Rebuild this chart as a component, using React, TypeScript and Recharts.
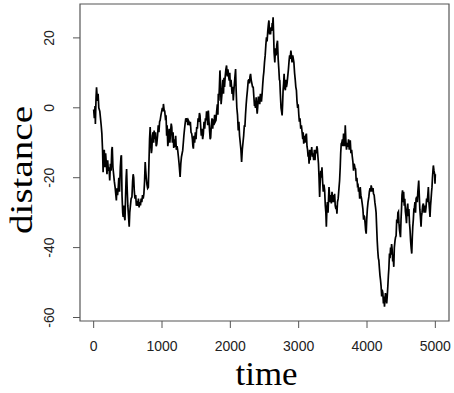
import React from 'react';
import { LineChart, Line, XAxis, YAxis, ReferenceArea } from 'recharts';

// values (random walk, 5000 steps)
const timeSteps = [
  0, 10, 20, 25, 35, 42, 55, 65, 75, 90, 100, 110, 120, 130, 138, 145, 155, 165, 175, 185,
  195, 205, 215, 225, 235, 245, 255, 265, 272, 282, 292, 302, 315, 325, 332, 340, 350, 360, 368, 378,
  390, 400, 406, 415, 425, 432, 440, 448, 458, 466, 475, 482, 490, 500, 510, 520, 528, 538, 548, 560,
  570, 578, 586, 595, 605, 615, 625, 635, 645, 655, 665, 675, 685, 695, 705, 715, 725, 735, 745, 754,
  762, 770, 780, 790, 800, 810, 818, 827, 835, 845, 851, 860, 870, 878, 885, 895, 905, 915, 924, 935,
  945, 955, 965, 973, 985, 995, 1005, 1015, 1021, 1030, 1040, 1050, 1060, 1068, 1075, 1085, 1094, 1105, 1115, 1125,
  1135, 1143, 1152, 1162, 1172, 1182, 1192, 1200, 1210, 1220, 1230, 1240, 1250, 1258, 1265, 1275, 1285, 1295, 1303, 1312,
  1320, 1330, 1338, 1348, 1358, 1368, 1378, 1386, 1395, 1405, 1415, 1425, 1435, 1445, 1452, 1459, 1468, 1478, 1488, 1498,
  1508, 1518, 1528, 1538, 1548, 1556, 1565, 1575, 1585, 1595, 1605, 1615, 1625, 1635, 1644, 1652, 1660, 1670, 1678, 1688,
  1698, 1705, 1712, 1722, 1732, 1742, 1751, 1760, 1770, 1780, 1790, 1800, 1810, 1818, 1824, 1832, 1840, 1848, 1856, 1865,
  1873, 1882, 1890, 1900, 1907, 1915, 1925, 1935, 1945, 1955, 1965, 1975, 1984, 1992, 2000, 2010, 2018, 2026, 2035, 2043,
  2052, 2060, 2068, 2077, 2085, 2095, 2105, 2116, 2125, 2135, 2145, 2155, 2165, 2175, 2185, 2195, 2205, 2213, 2222, 2232,
  2240, 2250, 2262, 2270, 2280, 2288, 2296, 2305, 2315, 2325, 2335, 2345, 2352, 2359, 2368, 2378, 2386, 2393, 2400, 2410,
  2422, 2430, 2440, 2448, 2456, 2465, 2475, 2483, 2490, 2500, 2510, 2520, 2529, 2538, 2548, 2558, 2565, 2573, 2580, 2588,
  2596, 2605, 2612, 2620, 2626, 2632, 2640, 2651, 2660, 2670, 2680, 2690, 2700, 2710, 2718, 2724, 2732, 2742, 2750, 2758,
  2765, 2772, 2780, 2787, 2795, 2805, 2813, 2821, 2830, 2840, 2850, 2860, 2868, 2876, 2886, 2894, 2903, 2913, 2922, 2930,
  2940, 2950, 2958, 2967, 2975, 2985, 2993, 3001, 3010, 3020, 3030, 3040, 3050, 3060, 3066, 3074, 3083, 3093, 3103, 3113,
  3122, 3130, 3138, 3145, 3152, 3160, 3168, 3176, 3184, 3191, 3200, 3210, 3220, 3230, 3239, 3248, 3258, 3266, 3273, 3282,
  3290, 3298, 3307, 3315, 3323, 3332, 3341, 3350, 3360, 3370, 3380, 3390, 3398, 3405, 3413, 3420, 3430, 3437, 3444, 3452,
  3460, 3470, 3478, 3488, 3498, 3508, 3518, 3526, 3535, 3545, 3552, 3560, 3568, 3578, 3590, 3599, 3608, 3615, 3623, 3632,
  3640, 3648, 3657, 3665, 3673, 3682, 3690, 3700, 3710, 3721, 3730, 3740, 3748, 3755, 3765, 3775, 3785, 3794, 3803, 3812,
  3822, 3833, 3842, 3852, 3860, 3867, 3876, 3885, 3893, 3901, 3910, 3920, 3930, 3940, 3950, 3958, 3964, 3972, 3980, 3988,
  3996, 4005, 4015, 4027, 4035, 4045, 4053, 4061, 4070, 4080, 4088, 4095, 4105, 4115, 4125, 4133, 4141, 4149, 4158, 4166,
  4173, 4182, 4190, 4198, 4206, 4215, 4222, 4232, 4240, 4248, 4256, 4262, 4270, 4280, 4288, 4296, 4305, 4313, 4320, 4329,
  4337, 4345, 4352, 4360, 4368, 4376, 4384, 4392, 4400, 4410, 4418, 4426, 4435, 4445, 4452, 4460, 4468, 4476, 4483, 4490,
  4498, 4505, 4512, 4520, 4528, 4536, 4545, 4553, 4562, 4570, 4578, 4586, 4596, 4605, 4613, 4622, 4630, 4638, 4646, 4655,
  4663, 4670, 4678, 4686, 4694, 4702, 4710, 4718, 4728, 4736, 4744, 4752, 4757, 4765, 4773, 4781, 4791, 4798, 4805, 4815,
  4825, 4835, 4845, 4855, 4864, 4872, 4880, 4890, 4898, 4906, 4914, 4922, 4930, 4938, 4945, 4951, 4958, 4965, 4971, 4980,
  4990, 4995, 5000,
];

const distanceValues = [
  -0.5, -3, 0.5, -4.6, 3, 5.9, 2, 4, 0, -1, -3, -5, -7.4, -12, -18.4, -14, -12, -17, -13, -16,
  -19, -15, -18, -17, -20.8, -16, -18, -12, -11.2, -17, -19, -21, -23, -25, -26.5, -23, -25, -22.7, -20, -24,
  -17, -14, -13.6, -25, -30, -31.2, -28, -31, -32.2, -26, -20, -17.5, -23, -28, -31, -34, -30, -28, -26, -25.5,
  -21, -19, -20, -24, -26, -25, -28, -27.4, -28, -26, -28.5, -27, -27.9, -26, -27, -25, -26, -24.6, -21, -15.5,
  -18, -20, -22, -23, -22.7, -15, -9, -5.5, -10, -13, -12, -8, -7, -10, -6.5, -9, -7, -11, -10.3, -8,
  -5, -7, -4, -3.6, -2, -1, 0, -1, 1.1, -0.5, -1, -3, -2.7, -8, -5, -11, -9.3, -6, -10, -7,
  -4.5, -5.5, -10, -7, -11.5, -9, -11.2, -8, -12, -11, -12.2, -14, -16, -18, -19.8, -16, -14, -13, -12.2, -10,
  -8, -6, -4.6, -3, -4, -3, -5, -3.6, -4, -5, -4, -7, -7.4, -9, -11, -11.7, -8, -10, -7, -9,
  -5.5, -6, -3, -4, -1.5, -2.2, -5, -8, -6, -9, -7.5, -4, -6, -3, -3.6, -1, -3, -5, -0.8, -4,
  -7, -9, -8.5, -5, -3, -6, -3.3, -5, -2, -4, -3.6, -1, 1, -2, 4, 2, 6, 10.7, 7, 1,
  3, 5, 8, 4, 8.6, 6, 9, 11, 12.1, 9, 11, 9, 7.8, 10, 6, 8, 5.9, 4, 6, 2.1,
  5, 7, 9, 11.1, 5, 0, -2, -6.5, -4, -8, -10, -12, -15.5, -12, -10, -8, -5, -5.5, -2, 1,
  3, 5, 7.8, 8, 7, 9, 9.7, 8, 7, 6, 5.9, 3, 1, 1.1, 0, 3, 0, -1.7, 0, 3,
  3, 1, 4, 2, 2, 4, 7, 9, 10.2, 13, 15, 18, 20.2, 19, 22, 24, 25, 21, 22, 21,
  23, 22, 24, 24, 25.9, 22, 16, 13, 17, 15, 18, 19.2, 14, 11, 8, 7.8, 4, 0, -1, -2.2,
  1, 5, 7, 9.7, 6, 5, 8, 5.9, 7, 9, 11, 13.5, 15, 14, 16.4, 15, 13, 15, 14, 13,
  10, 8, 6, 5, 2, 0, 1, -1.7, -4, -3, -6, -5, -7, -9, -7, -10.3, -8, -10, -8, -7.4,
  -11, -12, -14, -13, -16, -12, -15, -12, -13, -11.2, -14, -13, -15, -12, -15, -12, -13, -11, -11.7, -14,
  -16, -20, -25.5, -21, -18, -20, -17, -21, -24, -22, -23.6, -28, -30, -34, -29, -27, -30, -26, -22.7, -25,
  -27, -25, -27.4, -24, -27, -25, -27, -24.6, -28, -29, -28, -30.3, -27, -26, -23, -20.8, -17, -13, -10.3, -10,
  -9, -11, -7.4, -9, -11, -5, -9, -12, -10, -11.2, -9, -12, -10, -9.3, -13, -12, -14, -15.5, -18, -16,
  -17, -17.5, -21, -20, -22, -21.7, -24, -23, -26, -22.7, -25, -26, -27.4, -29, -32, -31, -31.2, -33, -35, -36,
  -32, -29, -27, -25.5, -24, -23, -24, -22.2, -23, -24, -23, -24.6, -25, -27, -28.5, -30, -34, -37.9, -41, -43,
  -43.6, -46, -48, -49.3, -51, -54, -52, -53, -56, -54, -56.9, -55, -53, -54, -56, -54, -51, -48, -46, -41.7,
  -43, -40, -42, -39, -40.5, -44, -43, -45.5, -40, -38, -37, -36.6, -32, -33, -30, -29.7, -33, -35, -36, -37,
  -32, -29, -25, -23.6, -27, -24, -28, -26, -29.7, -31, -33, -29, -27.4, -31, -29, -33, -35, -38, -40, -41.7,
  -37, -34, -32, -29, -28.5, -27, -30, -26, -25.5, -27, -24, -22, -20.8, -25, -29, -31, -34, -31, -30, -28,
  -27.4, -30, -28, -30, -28.5, -26, -27, -25, -22.7, -27, -29, -31.2, -28, -26, -24, -22.7, -20, -18, -16.5, -18,
  -19, -21.7, -19,
];

const xTicks = [0, 1000, 2000, 3000, 4000, 5000];
const yTicks = [-60, -40, -20, 0, 20];

const walkData = timeSteps.map((t, i) => ({ time: t, distance: distanceValues[i] }));

const tickFont = '"Liberation Sans", Arial, sans-serif';
const titleFont = '"Liberation Serif", "Times New Roman", serif';

const XTick = ({ x, y, payload }: any) => (
  <text x={x} y={y + 21} textAnchor="middle" fontSize={14} fontFamily={tickFont} fill="#222">
    {payload.value}
  </text>
);

const YTick = ({ x, y, payload }: any) => {
  const tx = x - 17;
  return (
    <text
      x={tx}
      y={y}
      transform={`rotate(-90 ${tx} ${y})`}
      textAnchor="middle"
      fontSize={14}
      fontFamily={tickFont}
      fill="#222"
    >
      {payload.value}
    </text>
  );
};

export default function App() {
  return (
    <div style={{ position: 'absolute', left: 0, top: 0, width: 454, height: 393, background: '#fff' }}>
      <LineChart width={454} height={393} data={walkData} margin={{ top: 4, right: 5, left: 0, bottom: 0 }}>
        <XAxis
          dataKey="time"
          type="number"
          domain={[-200, 5200]}
          allowDataOverflow
          ticks={xTicks}
          height={72}
          axisLine={false}
          tickSize={7}
          tickLine={{ stroke: '#555' }}
          tick={<XTick />}
          interval={0}
        />
        <YAxis
          type="number"
          domain={[-61, 29.7]}
          allowDataOverflow
          ticks={yTicks}
          width={80}
          axisLine={false}
          tickSize={7}
          tickLine={{ stroke: '#555' }}
          tick={<YTick />}
          interval={0}
        />
        <ReferenceArea x1={-200} x2={5200} y1={-61} y2={29.7} fill="none" stroke="#555" strokeWidth={1.2} />
        <Line
          type="linear"
          dataKey="distance"
          stroke="#000"
          strokeWidth={1.7}
          dot={false}
          isAnimationActive={false}
        />
      </LineChart>
      <svg width={454} height={393} style={{ position: 'absolute', left: 0, top: 0, pointerEvents: 'none' }}>
        <text
          x={266.5}
          y={385}
          textAnchor="middle"
          fontSize={33}
          fontFamily={titleFont}
          fill="#000"
          textLength={62}
          lengthAdjust="spacingAndGlyphs"
        >
          time
        </text>
        <text
          x={32}
          y={170}
          transform="rotate(-90 32 170)"
          textAnchor="middle"
          fontSize={32}
          fontFamily={titleFont}
          fill="#000"
          textLength={128}
          lengthAdjust="spacingAndGlyphs"
        >
          distance
        </text>
      </svg>
    </div>
  );
}
